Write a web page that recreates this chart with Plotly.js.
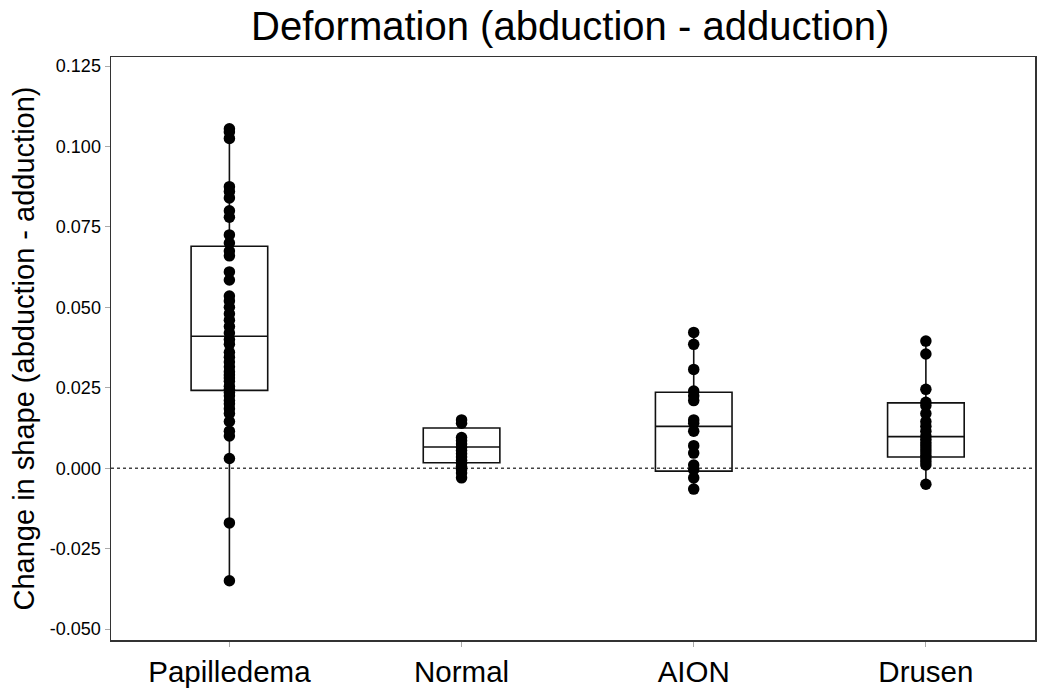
<!DOCTYPE html>
<html>
<head>
<meta charset="utf-8">
<script src="https://cdn.plot.ly/plotly-3.0.1.min.js"></script>
<style>html,body{margin:0;padding:0;background:#fff;}#chart{width:1050px;height:692px;}</style>
</head>
<body>
<div id="chart"></div>
<script>
const categories = ["Papilledema", "Normal", "AION", "Drusen"];

const papilledema = [0.1055, 0.1045, 0.1025, 0.0875, 0.0860, 0.0840, 0.0800, 0.0780, 0.0725, 0.0700,
  0.0675, 0.0660, 0.0610, 0.0585, 0.0535, 0.0520, 0.0500, 0.0480, 0.0460, 0.0440,
  0.0420, 0.0400, 0.0385, 0.0360, 0.0345, 0.0330, 0.0315, 0.0300, 0.0290, 0.0280,
  0.0270, 0.0255, 0.0245, 0.0235, 0.0225, 0.0210, 0.0200, 0.0185, 0.0170, 0.0145,
  0.0115, 0.0100, 0.0030, -0.0170, -0.0350];
const normal = [0.0150, 0.0140, 0.0095, 0.0085, 0.0075, 0.0065, 0.0055, 0.0045, 0.0035, 0.0025,
  0.0015, 0.0005, -0.0005, -0.0015, -0.0030];
const aion = [0.0422, 0.0385, 0.0307, 0.0240, 0.0225, 0.0210, 0.0150, 0.0140, 0.0115, 0.0070,
  0.0047, 0.0010, -0.0005, -0.0030, -0.0065];
const drusen = [0.0395, 0.0355, 0.0245, 0.0205, 0.0195, 0.0170, 0.0145, 0.0130, 0.0115, 0.0100,
  0.0090, 0.0080, 0.0070, 0.0060, 0.0050, 0.0040, 0.0030, 0.0020, 0.0010, -0.0050];

// box summary statistics
const q1 = [0.0242, 0.0017, -0.0009, 0.0035];
const medians = [0.0410, 0.0066, 0.0130, 0.0098];
const q3 = [0.0690, 0.0125, 0.0236, 0.0203];
const lowerFence = [-0.0350, -0.0030, -0.0065, -0.0050];
const upperFence = [0.1055, 0.0150, 0.0422, 0.0395];

const yTickVals = [-0.05, -0.025, 0, 0.025, 0.05, 0.075, 0.1, 0.125];
const yTickText = ["-0.050", "-0.025", "0.000", "0.025", "0.050", "0.075", "0.100", "0.125"];

const groups = [papilledema, normal, aion, drusen];
const ptsX = [], ptsY = [];
groups.forEach((g, i) => g.forEach(v => { ptsX.push(categories[i]); ptsY.push(v); }));

const FONT = "Liberation Sans, Arial, sans-serif";

const traces = [
  {
    type: "box",
    x: categories,
    q1: q1, median: medians, q3: q3,
    lowerfence: lowerFence, upperfence: upperFence,
    boxpoints: false,
    width: 0.33,
    whiskerwidth: 0,
    fillcolor: "rgba(0,0,0,0)",
    line: {color: "#111", width: 1.6},
    hoverinfo: "skip",
    showlegend: false
  },
  {
    type: "scatter",
    mode: "markers",
    x: ptsX, y: ptsY,
    marker: {color: "#000", size: 11.5},
    showlegend: false
  }
];

const layout = {
  width: 1050, height: 692,
  margin: {l: 111, r: 15, t: 57, b: 52},
  paper_bgcolor: "#fff", plot_bgcolor: "#fff",
  font: {family: FONT, color: "#000"},
  title: {text: "Deformation (abduction - adduction)", font: {size: 40, family: FONT, color: "#000"},
          x: 0.543, xanchor: "center", y: 0.962, yanchor: "middle"},
  xaxis: {
    type: "category",
    categoryorder: "array", categoryarray: categories,
    range: [-0.51, 3.47],
    showgrid: false, zeroline: false,
    showline: true, mirror: true, linecolor: "#333", linewidth: 1.5,
    ticks: "outside", ticklen: 5, tickcolor: "#aaa", tickwidth: 1,
    tickfont: {size: 29.5, family: FONT, color: "#000"}
  },
  yaxis: {
    range: [-0.0534, 0.1278],
    tickvals: yTickVals, ticktext: yTickText,
    showgrid: false, zeroline: false,
    showline: true, mirror: true, linecolor: "#333", linewidth: 1.5,
    ticks: "outside", ticklen: 5, tickcolor: "#aaa", tickwidth: 1,
    tickfont: {size: 18, family: FONT, color: "#000"},
    title: {text: "Change in shape (abduction - adduction)", font: {size: 29, family: FONT, color: "#000"}, standoff: 6}
  },
  shapes: [{
    type: "line", xref: "paper", yref: "y", x0: 0, x1: 1, y0: 0, y1: 0,
    line: {color: "#444", width: 1.6, dash: "dot"}, layer: "below"
  }]
};

Plotly.newPlot("chart", traces, layout, {displayModeBar: false, staticPlot: true});
</script>
</body>
</html>
